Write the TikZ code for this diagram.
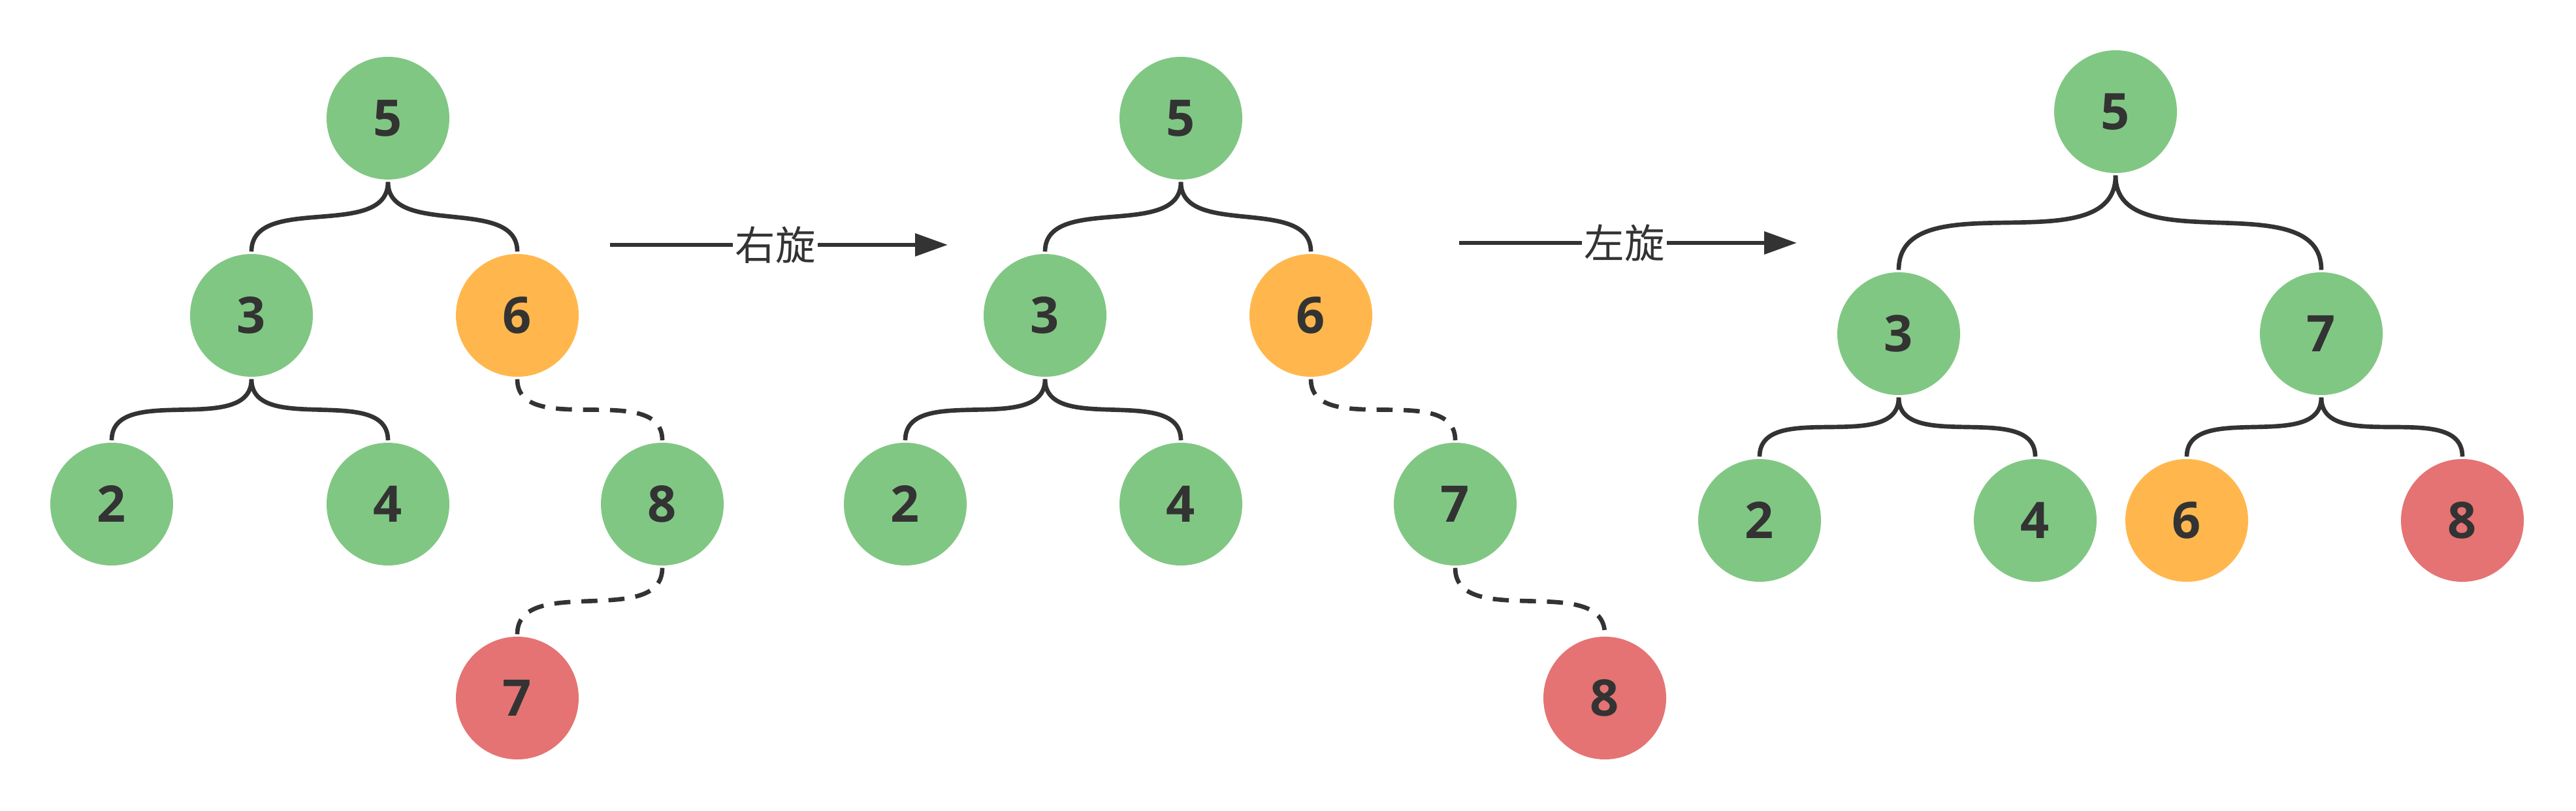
\documentclass[tikz,border=0pt]{standalone}
\usepackage{fontspec}
\setmainfont{Open Sans}
\newfontfamily\cjk{Noto Sans CJK SC}
\usetikzlibrary{arrows.meta}

\definecolor{ink}{HTML}{333333}
\definecolor{keygreen}{HTML}{81C784}
\definecolor{keyorange}{HTML}{FFB74D}
\definecolor{keyred}{HTML}{E57373}

\begin{document}
\begin{tikzpicture}[
    key/.style={circle, fill=keygreen, minimum size=1.88cm,
      inner sep=0pt, text=ink,
      font=\fontsize{22pt}{22pt}\selectfont\bfseries},
    pivot/.style={key, fill=keyorange},
    moved/.style={key, fill=keyred},
    branch/.style={draw=ink, line width=1.9pt, shorten <=0.03cm, shorten >=0.03cm},
    weak/.style={branch, dash pattern=on 7pt off 4.8pt},
    turn/.style={draw=ink, line width=1.8pt, -{Triangle[length=0.5cm, width=0.34cm]}},
    turnlabel/.style={fill=white, inner sep=1pt, text=ink,
      font=\cjk\fontsize{17.5pt}{17.5pt}\selectfont}
  ]
  \useasboundingbox (0,0) rectangle (39.44,-12.42);

  % Tree before right rotation
  \node[key]   (a5) at (5.94,-1.81) {5};
  \node[key]   (a3) at (3.85,-4.83) {3};
  \node[pivot] (a6) at (7.92,-4.83) {6};
  \node[key]   (a2) at (1.71,-7.72) {2};
  \node[key]   (a4) at (5.94,-7.72) {4};
  \node[key]   (a8) at (10.14,-7.72) {8};
  \node[moved] (a7) at (7.92,-10.69) {7};

  \foreach \p/\c in {a5/a3, a5/a6, a3/a2, a3/a4}
    \draw[branch] (\p.south) to[out=-90,in=90] (\c.north);
  \foreach \p/\c in {a6/a8, a8/a7}
    \draw[weak] (\p.south) to[out=-90,in=90] (\c.north);

  % Right rotation
  \coordinate (r1s) at (9.34,-3.75);
  \coordinate (r1e) at (14.51,-3.75);
  \draw[turn] (r1s) -- (r1e) node[turnlabel, pos=0.49] (r1l) {右旋};

  % Tree after right rotation
  \node[key]   (b5) at (18.08,-1.81) {5};
  \node[key]   (b3) at (16.00,-4.83) {3};
  \node[pivot] (b6) at (20.07,-4.83) {6};
  \node[key]   (b2) at (13.86,-7.72) {2};
  \node[key]   (b4) at (18.08,-7.72) {4};
  \node[key]   (b7) at (22.28,-7.72) {7};
  \node[moved] (b8) at (24.57,-10.69) {8};

  \foreach \p/\c in {b5/b3, b5/b6, b3/b2, b3/b4}
    \draw[branch] (\p.south) to[out=-90,in=90] (\c.north);
  \foreach \p/\c in {b6/b7, b7/b8}
    \draw[weak] (\p.south) to[out=-90,in=90] (\c.north);

  % Left rotation
  \coordinate (r2s) at (22.34,-3.72);
  \coordinate (r2e) at (27.51,-3.72);
  \draw[turn] (r2s) -- (r2e) node[turnlabel, pos=0.49] (r2l) {左旋};

  % Balanced tree
  \node[key]   (c5) at (32.39,-1.71) {5};
  \node[key]   (c3) at (29.07,-5.11) {3};
  \node[key]   (c7) at (35.54,-5.11) {7};
  \node[key]   (c2) at (26.94,-7.97) {2};
  \node[key]   (c4) at (31.16,-7.97) {4};
  \node[pivot] (c6) at (33.48,-7.97) {6};
  \node[moved] (c8) at (37.70,-7.97) {8};

  \foreach \p/\c in {c5/c3, c5/c7, c3/c2, c3/c4, c7/c6, c7/c8}
    \draw[branch] (\p.south) to[out=-90,in=90] (\c.north);
\end{tikzpicture}
\end{document}
